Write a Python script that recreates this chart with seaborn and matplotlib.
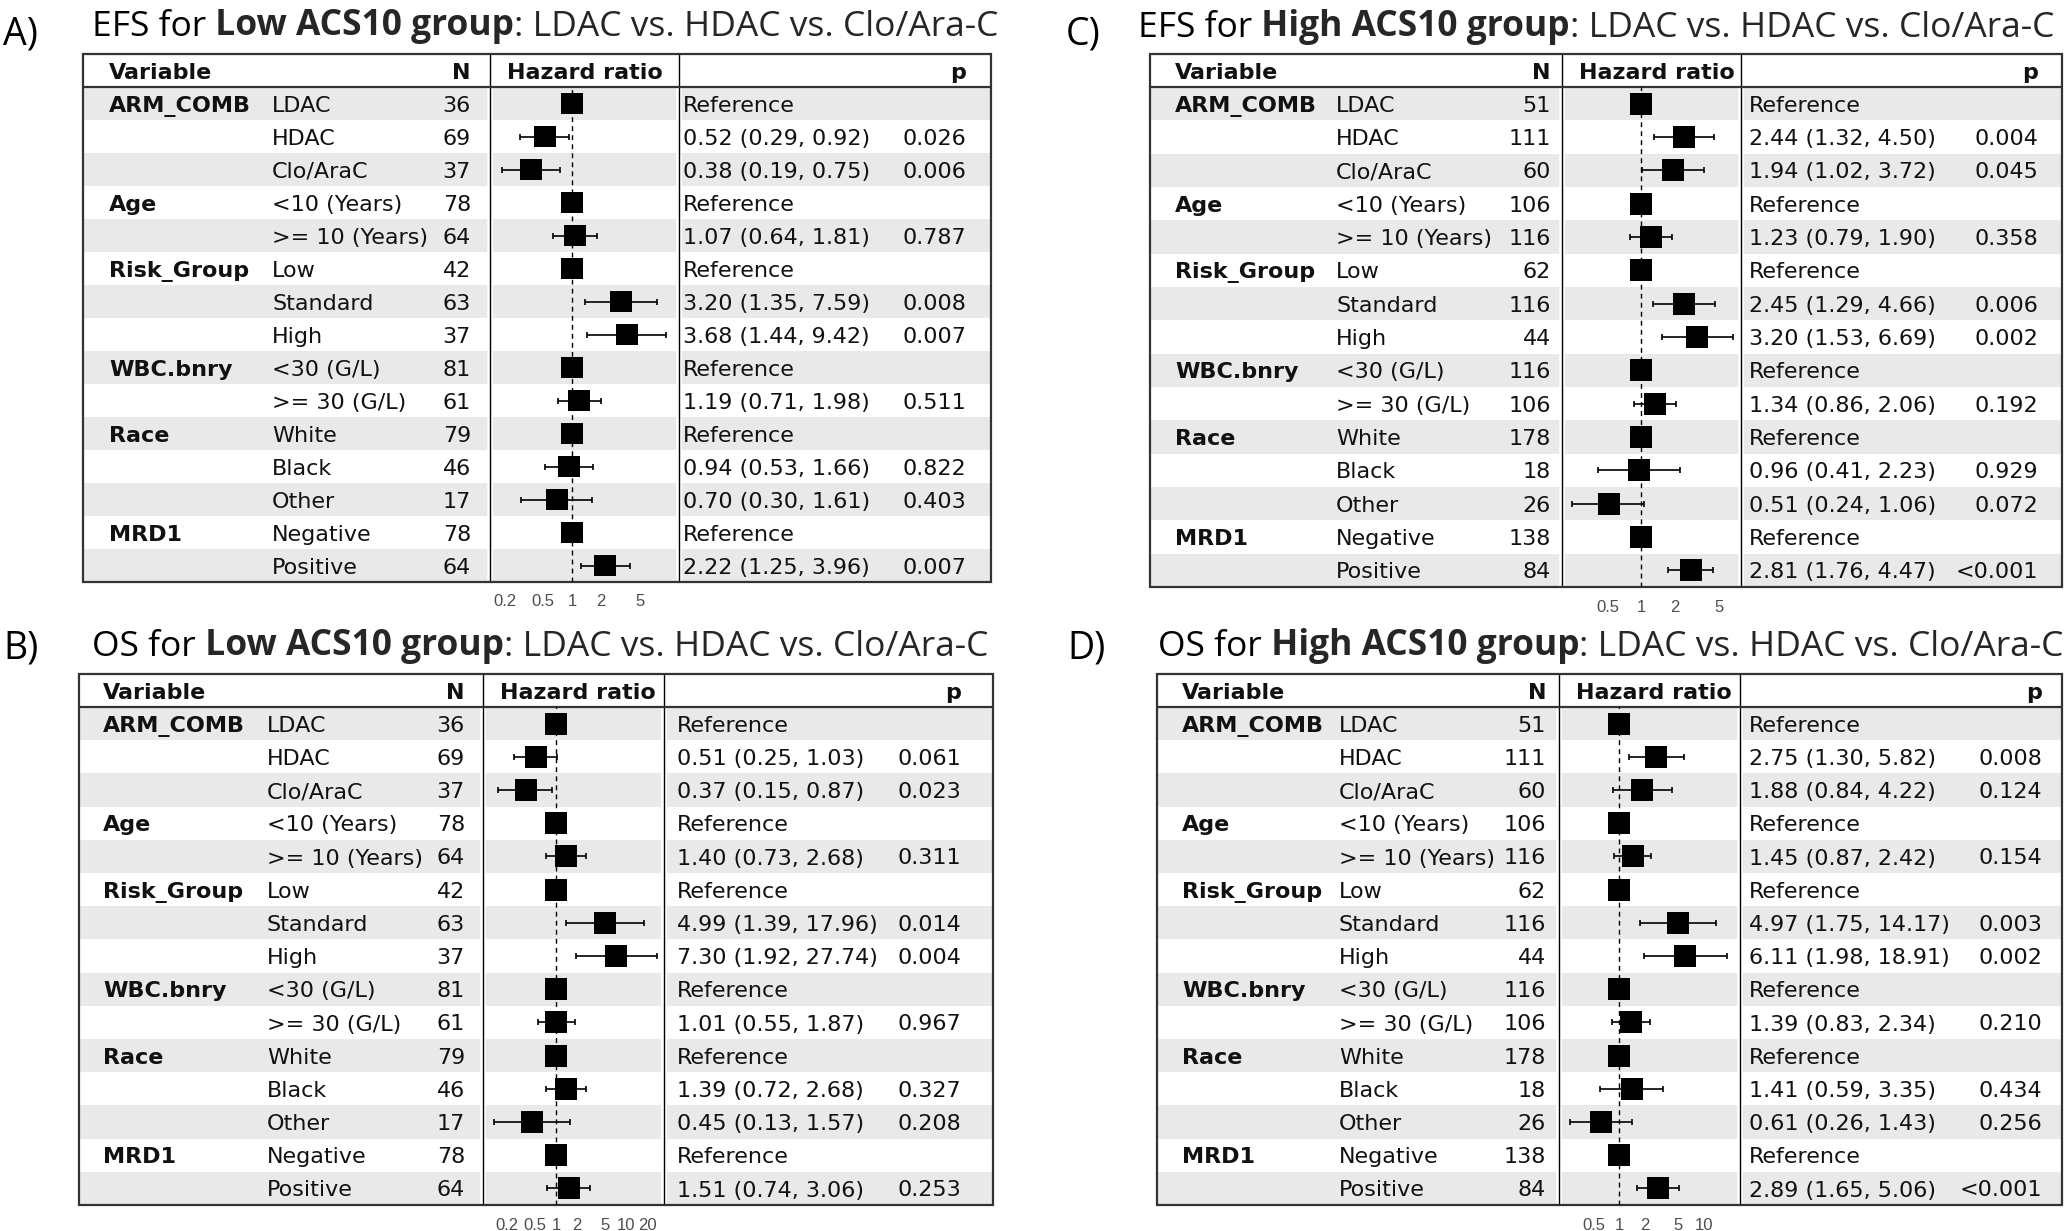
import numpy as np
import pandas as pd
import matplotlib
matplotlib.use("Agg")
import matplotlib.pyplot as plt
import seaborn as sns
from matplotlib.patches import Rectangle
from matplotlib.ticker import NullLocator

# ---- data ----
variables = ["ARM_COMB", "Age", "Risk_Group", "WBC.bnry", "Race", "MRD1"]
group_sizes = [3, 2, 3, 2, 3, 2]
levels = ["LDAC", "HDAC", "Clo/AraC", "<10 (Years)", ">= 10 (Years)",
          "Low", "Standard", "High", "<30 (G/L)", ">= 30 (G/L)",
          "White", "Black", "Other", "Negative", "Positive"]

n_low = [36, 69, 37, 78, 64, 42, 63, 37, 81, 61, 79, 46, 17, 78, 64]
n_high = [51, 111, 60, 106, 116, 62, 116, 44, 116, 106, 178, 18, 26, 138, 84]

nan = np.nan
hr_efs_low = [1, 0.52, 0.38, 1, 1.07, 1, 3.20, 3.68, 1, 1.19, 1, 0.94, 0.70, 1, 2.22]
lo_efs_low = [nan, 0.29, 0.19, nan, 0.64, nan, 1.35, 1.44, nan, 0.71, nan, 0.53, 0.30, nan, 1.25]
hi_efs_low = [nan, 0.92, 0.75, nan, 1.81, nan, 7.59, 9.42, nan, 1.98, nan, 1.66, 1.61, nan, 3.96]
p_efs_low = ["", "0.026", "0.006", "", "0.787", "", "0.008", "0.007", "", "0.511", "", "0.822", "0.403", "", "0.007"]

hr_os_low = [1, 0.51, 0.37, 1, 1.40, 1, 4.99, 7.30, 1, 1.01, 1, 1.39, 0.45, 1, 1.51]
lo_os_low = [nan, 0.25, 0.15, nan, 0.73, nan, 1.39, 1.92, nan, 0.55, nan, 0.72, 0.13, nan, 0.74]
hi_os_low = [nan, 1.03, 0.87, nan, 2.68, nan, 17.96, 27.74, nan, 1.87, nan, 2.68, 1.57, nan, 3.06]
p_os_low = ["", "0.061", "0.023", "", "0.311", "", "0.014", "0.004", "", "0.967", "", "0.327", "0.208", "", "0.253"]

hr_efs_high = [1, 2.44, 1.94, 1, 1.23, 1, 2.45, 3.20, 1, 1.34, 1, 0.96, 0.51, 1, 2.81]
lo_efs_high = [nan, 1.32, 1.02, nan, 0.79, nan, 1.29, 1.53, nan, 0.86, nan, 0.41, 0.24, nan, 1.76]
hi_efs_high = [nan, 4.50, 3.72, nan, 1.90, nan, 4.66, 6.69, nan, 2.06, nan, 2.23, 1.06, nan, 4.47]
p_efs_high = ["", "0.004", "0.045", "", "0.358", "", "0.006", "0.002", "", "0.192", "", "0.929", "0.072", "", "<0.001"]

hr_os_high = [1, 2.75, 1.88, 1, 1.45, 1, 4.97, 6.11, 1, 1.39, 1, 1.41, 0.61, 1, 2.89]
lo_os_high = [nan, 1.30, 0.84, nan, 0.87, nan, 1.75, 1.98, nan, 0.83, nan, 0.59, 0.26, nan, 1.65]
hi_os_high = [nan, 5.82, 4.22, nan, 2.42, nan, 14.17, 18.91, nan, 2.34, nan, 3.35, 1.43, nan, 5.06]
p_os_high = ["", "0.008", "0.124", "", "0.154", "", "0.003", "0.002", "", "0.210", "", "0.434", "0.256", "", "<0.001"]

ticks_a = [0.2, 0.5, 1, 2, 5]
ticks_b = [0.2, 0.5, 1, 2, 5, 10, 20]
ticks_c = [0.5, 1, 2, 5]
ticks_d = [0.5, 1, 2, 5, 10]

panels = [
    dict(label="A)", endpoint="EFS for", group="Low ACS10 group", n=n_low,
         hr=hr_efs_low, lo=lo_efs_low, hi=hi_efs_low, p=p_efs_low, ticks=ticks_a),
    dict(label="B)", endpoint="OS for", group="Low ACS10 group", n=n_low,
         hr=hr_os_low, lo=lo_os_low, hi=hi_os_low, p=p_os_low, ticks=ticks_b),
    dict(label="C)", endpoint="EFS for", group="High ACS10 group", n=n_high,
         hr=hr_efs_high, lo=lo_efs_high, hi=hi_efs_high, p=p_efs_high, ticks=ticks_c),
    dict(label="D)", endpoint="OS for", group="High ACS10 group", n=n_high,
         hr=hr_os_high, lo=lo_os_high, hi=hi_os_high, p=p_os_high, ticks=ticks_d),
]

# ---- layout (pixels of the 2070x1231 canvas) ----
layout = [
    dict(L=83, R=991, T=54, hb=87, B=582, d1=490, d2=679, x1=572, dec=96.6,
         var=109, lev=272, nr=471, hrx=683, pr=966, lab_x=3, tit_x=92, base=36, lab_base=44),
    dict(L=79, R=993, T=674, hb=707, B=1205, d1=483, d2=664, x1=556, dec=70,
         var=103, lev=267, nr=465, hrx=677, pr=961, lab_x=3, tit_x=92, base=656, lab_base=658),
    dict(L=1150, R=2062, T=54, hb=87, B=587, d1=1562, d2=1741, x1=1641, dec=111,
         var=1175, lev=1336, nr=1551, hrx=1749, pr=2038, lab_x=1066, tit_x=1138, base=37, lab_base=44),
    dict(L=1157, R=2062, T=674, hb=707, B=1205, d1=1559, d2=1740, x1=1619, dec=84.5,
         var=1182, lev=1339, nr=1546, hrx=1749, pr=2042, lab_x=1067, tit_x=1158, base=656, lab_base=658),
]

W, H = 2070, 1231
sns.set_theme(style="white")
plt.rcParams["font.family"] = ["DejaVu Sans"]
title_font = ["Open Sans", "DejaVu Sans"]
tick_font = ["Liberation Sans Narrow", "Liberation Sans", "DejaVu Sans"]
txt = "#111111"
stripe = "#e9e9e9"
fs = 16
tfs = 25.5
cap = fs * 100 / 72 * 0.729  # cap height in px, used to centre rows

fig = plt.figure(figsize=(W / 100, H / 100), dpi=100)
ax = fig.add_axes([0, 0, 1, 1])
ax.set_xlim(0, W)
ax.set_ylim(H, 0)
ax.axis("off")

group_first = list(np.cumsum([0] + group_sizes[:-1]))

for pan, lay in zip(panels, layout):
    nrow = len(levels)
    rh = (lay["B"] - lay["hb"]) / nrow

    # title
    ax.text(lay["lab_x"], lay["lab_base"], pan["label"], fontsize=27,
            family=title_font, va="baseline", color="black")
    t1 = ax.text(lay["tit_x"], lay["base"], pan["endpoint"], fontsize=tfs,
                 family=title_font, va="baseline", color="black")
    t2 = ax.annotate(" " + pan["group"], xy=(1, 0), xycoords=t1, va="bottom",
                     ha="left", fontsize=tfs, family=title_font, fontweight="bold")
    ax.annotate(": LDAC vs. HDAC vs. Clo/Ara-C", xy=(1, 0), xycoords=t2,
                va="bottom", ha="left", fontsize=tfs, family=title_font)

    # stripes
    for i in range(0, nrow, 2):
        ax.add_patch(Rectangle((lay["L"], lay["hb"] + i * rh), lay["R"] - lay["L"], rh,
                               facecolor=stripe, edgecolor="none", zorder=1))
    # column separators with a small white gap
    for d in (lay["d1"], lay["d2"]):
        ax.plot([d, d], [lay["hb"], lay["B"]], color="white", lw=4, zorder=2)
        ax.plot([d, d], [lay["T"], lay["B"]], color="black", lw=1.0, zorder=3)
    ax.add_patch(Rectangle((lay["L"], lay["T"]), lay["R"] - lay["L"], lay["B"] - lay["T"],
                           facecolor="none", edgecolor="#333333", lw=1.6, zorder=4))
    ax.plot([lay["L"], lay["R"]], [lay["hb"], lay["hb"]], color="#333333", lw=1.6, zorder=4)

    # header
    yh = (lay["T"] + lay["hb"]) / 2 + cap / 2
    ax.text(lay["var"], yh, "Variable", fontsize=fs, fontweight="bold", va="baseline", color=txt)
    ax.text(lay["nr"], yh, "N", fontsize=fs, fontweight="bold", va="baseline", ha="right", color=txt)
    ax.text(lay["d1"] + 17, yh, "Hazard ratio", fontsize=fs, fontweight="bold", va="baseline", color=txt)
    ax.text(lay["pr"], yh, "p", fontsize=fs, fontweight="bold", va="baseline", ha="right", color=txt)

    # rows
    for i in range(nrow):
        y = lay["hb"] + (i + 0.5) * rh + cap / 2
        if i in group_first:
            ax.text(lay["var"], y, variables[group_first.index(i)], fontsize=fs,
                    fontweight="bold", va="baseline", color=txt, zorder=5)
        ax.text(lay["lev"], y, levels[i], fontsize=fs, va="baseline", color=txt, zorder=5)
        ax.text(lay["nr"], y, str(pan["n"][i]), fontsize=fs, va="baseline", ha="right",
                color=txt, zorder=5)
        if np.isnan(pan["lo"][i]):
            est = "Reference"
        else:
            est = f"{pan['hr'][i]:.2f} ({pan['lo'][i]:.2f}, {pan['hi'][i]:.2f})"
        ax.text(lay["hrx"], y, est, fontsize=fs, va="baseline", color=txt, zorder=5)
        ax.text(lay["pr"], y, pan["p"][i], fontsize=fs, va="baseline", ha="right",
                color=txt, zorder=5)

    # hazard ratio column (log scale)
    hax = fig.add_axes([lay["d1"] / W, 1 - lay["B"] / H,
                        (lay["d2"] - lay["d1"]) / W, (lay["B"] - lay["hb"]) / H])
    hax.set_facecolor("none")
    hax.set_xscale("log")
    df = pd.DataFrame({"hr": pan["hr"], "lo": pan["lo"], "hi": pan["hi"],
                       "row": np.arange(nrow) + 0.5})
    hax.axvline(1, color="black", lw=1.0, ls=(0, (3.5, 3)), zorder=1)
    hax.errorbar(df["hr"], df["row"], xerr=[df["hr"] - df["lo"], df["hi"] - df["hr"]],
                 fmt="none", ecolor="black", elinewidth=1.2, capsize=2.5, capthick=1.2, zorder=2)
    sns.scatterplot(data=df, x="hr", y="row", marker="s", s=250, color="black",
                    edgecolor="none", legend=False, ax=hax, zorder=3)
    hax.set_xlim(10 ** ((lay["d1"] - lay["x1"]) / lay["dec"]),
                 10 ** ((lay["d2"] - lay["x1"]) / lay["dec"]))
    hax.set_ylim(nrow, 0)
    hax.set_xticks(pan["ticks"])
    hax.set_xticklabels([f"{t:g}" for t in pan["ticks"]], family=tick_font)
    hax.xaxis.set_minor_locator(NullLocator())
    hax.set_yticks([])
    hax.set_xlabel("")
    hax.set_ylabel("")
    hax.tick_params(axis="x", length=0, pad=9, labelsize=12, labelcolor="#4d4d4d")
    for s in hax.spines.values():
        s.set_visible(False)

fig.savefig("out.png", dpi=100)
